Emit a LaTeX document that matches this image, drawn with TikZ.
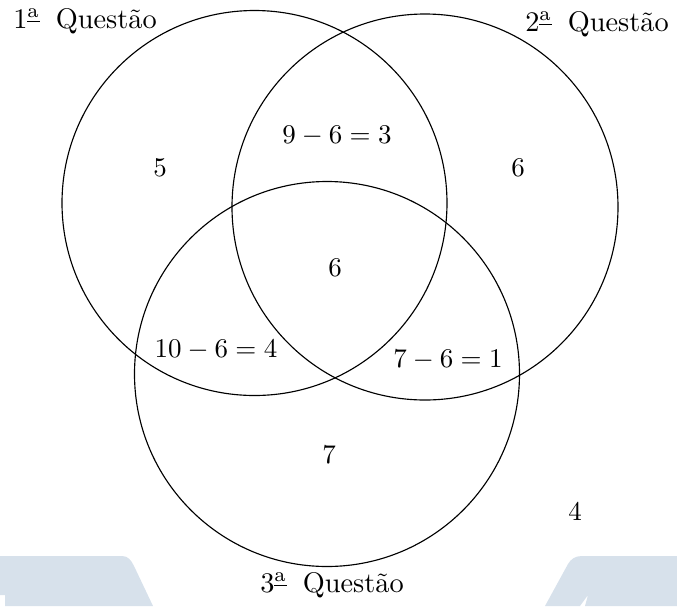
\documentclass[tikz,border=0pt]{standalone}
\usepackage{amsmath}
\definecolor{wm}{RGB}{215,225,235}
\begin{document}
\begin{tikzpicture}[x=0.3704pt,y=-0.3704pt,
  lbl/.style={inner sep=0pt, anchor=center},
  qlbl/.style={lbl, scale=1.05},
  setline/.style={draw, line width=0.42pt},
  wmark/.style={fill=wm, draw=none}]
\useasboundingbox (0,0) rectangle (677,606);
% faint watermark shapes at the bottom
\fill[wmark] (0,595) -- (0,556) -- (122,556) .. controls (128,556) and (131,560) .. (134,566) -- (153,606) -- (5,606) -- (5,595) -- cycle;
\fill[wmark] (545,606) -- (568,564) .. controls (571,559) and (575,556) .. (582,556) -- (677,556) -- (677,606) -- (585,606) -- (588,595) -- (580,606) -- cycle;
% sets
\coordinate (c1) at (254.5,203);
\coordinate (c2) at (425,207);
\coordinate (c3) at (327,374);
\draw[setline] (c1) circle[radius=192.5];
\draw[setline] (c2) circle[radius=193];
\draw[setline] (c3) circle[radius=192.5];
% labels
\node[qlbl] (q1) at (85,21) {$1^{\underline{\text{a}}}$\hspace{5.5pt}Questão};
\node[qlbl] (q2) at (597,24) {$2^{\underline{\text{a}}}$\hspace{5.5pt}Questão};
\node[qlbl] (q3) at (332,585) {$3^{\underline{\text{a}}}$\hspace{5.5pt}Questão};
\node[lbl] (a) at (160,168) {$5$};
\node[lbl] (b) at (518,168) {$6$};
\node[lbl] (ab) at (337,136) {$9-6=3$};
\node[lbl] (abc) at (335,268) {$6$};
\node[lbl] (ac) at (216,350) {$10-6=4$};
\node[lbl] (bc) at (448,360) {$7-6=1$};
\node[lbl] (c) at (329,455) {$7$};
\node[lbl] (out) at (575,512) {$4$};
\end{tikzpicture}
\end{document}
